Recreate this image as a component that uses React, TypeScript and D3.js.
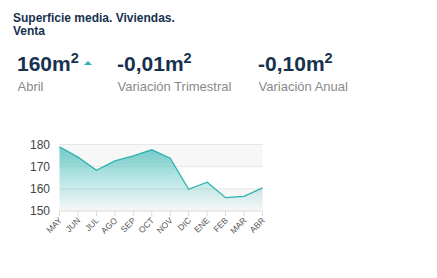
import React from "react";
import * as d3 from "d3";

const months = ["MAY", "JUN", "JUL", "AGO", "SEP", "OCT", "NOV", "DIC", "ENE", "FEB", "MAR", "ABR"];
const values = [179, 174.3, 168.4, 172.6, 174.9, 177.6, 173.8, 159.8, 163, 156, 156.6, 160.4];
const yTicks = [150, 160, 170, 180];
const kpiValues = ["160", "-0,01", "-0,10"];
const kpiLabels = ["Abril", "Variación Trimestral", "Variación Anual"];

const NAVY = "#17324f";
const TEAL = "#2fb1ad";
const FONT = "'Liberation Sans', Arial, Helvetica, sans-serif";

export default function App() {
  const W = 437, H = 278;
  const x = d3.scalePoint<string>().domain(months).range([59.5, 262.5]);
  const y = d3.scaleLinear().domain([150, 180]).range([211, 144.5]);
  const area = d3.area<number>().x((_, i) => x(months[i])!).y0(y(150)).y1(d => y(d));
  const line = d3.line<number>().x((_, i) => x(months[i])!).y(d => y(d));
  const kpiX = [17, 117, 258];
  return (
    <svg width={W} height={H} style={{ position: "absolute", left: 0, top: 0, fontFamily: FONT }}>
      <defs>
        <linearGradient id="g" x1="0" y1="0" x2="0" y2="1">
          <stop offset="0" stopColor="#58c3c0" stopOpacity={0.85} />
          <stop offset="1" stopColor="#58c3c0" stopOpacity={0} />
        </linearGradient>
      </defs>
      <text x={13} y={22} fontSize={12} fontWeight="bold" fill={NAVY}>Superficie media. Viviendas.</text>
      <text x={13} y={35} fontSize={12} fontWeight="bold" fill={NAVY}>Venta</text>
      {kpiValues.map((v, i) => (
        <g key={i}>
          <text x={kpiX[i]} y={71} fontSize={21} fontWeight="bold" fill={NAVY}>
            {v}m<tspan fontSize={14.5} dy={-8}>2</tspan>
          </text>
          <text x={kpiX[i] + 0.5} y={91} fontSize={13} fill="#8a8a8a">{kpiLabels[i]}</text>
        </g>
      ))}
      <path d="M84,65 L88,61 L92,65 Z" fill={TEAL} />
      {/* bands */}
      <rect x={x(months[0])!} y={y(180)} width={x(months[11])! - x(months[0])!} height={y(170) - y(180)} fill="#f7f7f7" />
      <rect x={x(months[0])!} y={y(160)} width={x(months[11])! - x(months[0])!} height={y(150) - y(160)} fill="#f7f7f7" />
      {yTicks.map(t => (
        <g key={t}>
          <line x1={x(months[0])!} x2={x(months[11])!} y1={y(t)} y2={y(t)} stroke={t === 150 ? "#dcdcdc" : "#e6e6e6"} strokeWidth={1} />
          <text x={50} y={y(t) + 4} fontSize={12} textAnchor="end" fill="#444">{t}</text>
        </g>
      ))}
      <path d={area(values)!} fill="url(#g)" />
      <path d={line(values)!} fill="none" stroke={TEAL} strokeWidth={1.3} />
      {months.map(m => (
        <g key={m}>
          <line x1={x(m)!} x2={x(m)!} y1={211} y2={216} stroke="#dcdcdc" />
          <text transform={`translate(${x(m)! + 3},${221}) rotate(-45)`} fontSize={8.5} textAnchor="end" fill="#555">{m}</text>
        </g>
      ))}
    </svg>
  );
}
